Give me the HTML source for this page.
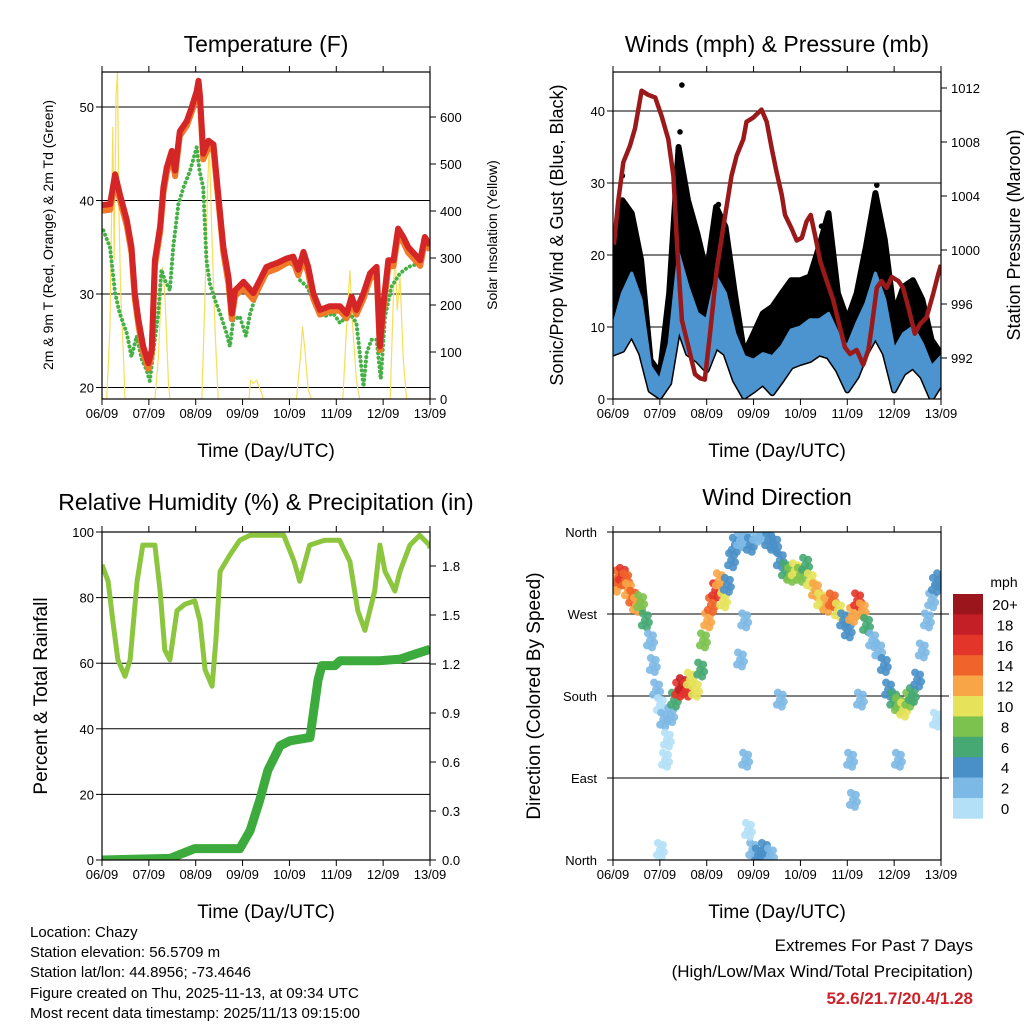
<!DOCTYPE html>
<html><head><meta charset="utf-8">
<style>
body{margin:0;background:#fff;width:1024px;height:1024px;overflow:hidden}
svg{display:block;font-family:"Liberation Sans",sans-serif}
</style></head>
<body>
<svg id="c" width="1024" height="1024" viewBox="0 0 1024 1024">
<text x="266" y="52" font-size="23" text-anchor="middle">Temperature (F)</text>
<text x="777" y="52" font-size="23" text-anchor="middle">Winds (mph) &amp; Pressure (mb)</text>
<text x="266" y="510" font-size="23" text-anchor="middle">Relative Humidity (%) &amp; Precipitation (in)</text>
<text x="777" y="505" font-size="23" text-anchor="middle">Wind Direction</text>
<g font-size="15">
<text x="30" y="937">Location: Chazy</text>
<text x="30" y="957">Station elevation: 56.5709 m</text>
<text x="30" y="977">Station lat/lon: 44.8956; -73.4646</text>
<text x="30" y="998">Figure created on Thu, 2025-11-13, at 09:34 UTC</text>
<text x="30" y="1018">Most recent data timestamp: 2025/11/13 09:15:00</text>
</g>
<text x="973" y="951" font-size="17" text-anchor="end">Extremes For Past 7 Days</text>
<text x="973" y="977" font-size="17" text-anchor="end">(High/Low/Max Wind/Total Precipitation)</text>
<text x="973" y="1004" font-size="17" font-weight="bold" fill="#cc2229" text-anchor="end">52.6/21.7/20.4/1.28</text>
</svg>
<script>
// ---- Temperature data ----
const redT=[0,0.17,0.28,0.38,0.53,0.63,0.70,0.78,0.88,0.99,1.06,1.13,1.24,1.31,1.38,1.49,1.56,1.66,1.81,1.91,2.02,2.06,2.09,2.13,2.16,2.27,2.38,2.48,2.59,2.70,2.77,2.84,3.02,3.23,3.37,3.51,3.73,3.94,4.08,4.19,4.30,4.40,4.51,4.65,4.86,5.08,5.22,5.33,5.43,5.58,5.72,5.86,5.93,6.00,6.11,6.22,6.32,6.43,6.54,6.79,6.89,7.0];
const redV=[39.5,39.6,42.8,40.7,37.9,35.0,30.1,27.2,24.4,22.6,24.0,33.6,37.2,41.4,43.5,45.3,43.2,47.4,48.5,49.9,51.7,52.8,51.3,47.8,45.0,46.4,46.0,40.7,35.0,31.8,27.9,30.4,31.3,30.1,31.5,32.9,33.3,33.8,34.0,32.6,34.5,32.9,30.1,28.3,28.7,28.7,27.9,29.7,28.3,30.1,32.2,32.9,24.4,28.7,33.6,33.6,37.0,36.1,35.0,33.6,36.1,35.2];
const orangeV=[38.9,39.0,42.0,40.1,37.3,34.4,29.5,26.6,23.7,22.0,23.5,33.0,36.6,40.8,42.9,44.8,42.6,46.9,48.0,49.4,51.2,52.2,50.8,47.1,44.4,45.7,45.3,40.1,34.4,31.1,27.3,29.8,30.6,29.4,30.9,32.3,32.7,33.3,33.5,32.0,33.8,32.2,29.5,27.8,28.2,28.2,27.4,29.1,27.8,29.5,31.6,32.2,24.0,28.1,32.9,33.0,36.3,35.5,34.4,33.0,35.5,34.7];
const tdT=[0.03,0.17,0.28,0.38,0.53,0.63,0.74,0.85,0.95,1.02,1.10,1.20,1.27,1.34,1.45,1.52,1.63,1.74,1.88,2.02,2.08,2.16,2.23,2.30,2.41,2.52,2.66,2.73,2.80,2.94,3.07,3.16,3.30,3.44,3.62,3.94,4.12,4.22,4.37,4.51,4.72,4.94,5.08,5.29,5.43,5.58,5.65,5.75,5.86,5.95,6.04,6.18,6.36,6.54,6.79,6.89,7.0];
const tdV=[36.8,35.0,30.1,27.9,25.8,23.3,25.5,23.0,21.9,20.7,24.0,27.9,32.6,31.5,30.4,35.0,39.6,41.4,43.2,45.7,43.2,41.4,33.6,31.1,29.4,27.9,25.8,24.4,27.2,27.6,25.5,27.9,30.1,32.2,33.3,33.6,32.9,31.5,30.8,29.4,27.6,27.9,26.9,27.9,26.9,20.1,23.7,25.1,25.1,20.9,27.6,30.8,32.2,32.9,33.3,35.4,34.7];
const solT=[0,0.10,0.17,0.23,0.26,0.30,0.33,0.36,0.40,0.46,0.49,1.13,1.20,1.29,1.34,1.42,1.45,2.13,2.20,2.25,2.29,2.34,2.41,2.48,3.14,3.17,3.23,3.30,3.41,3.44,4.15,4.24,4.28,4.33,4.40,4.47,5.14,5.22,5.29,5.35,5.43,5.50,6.15,6.22,6.25,6.30,6.36,6.43,6.50,7.0];
const solV=[0,0,154,579,296,650,696,402,225,83,0,0,83,281,225,33,0,0,225,438,544,367,154,0,0,40,33,40,12,0,0,97,154,104,19,0,0,154,274,154,40,0,0,225,317,189,260,83,0,0];
const dayLabels=["06/09","07/09","08/09","09/09","10/09","11/09","12/09","13/09"];
const tempTicks=[20,30,40,50];
const solTicks=[0,100,200,300,400,500,600];
// ---- Winds data ----
const windT=[0,0.2,0.4,0.6,0.8,1.0,1.2,1.4,1.6,1.8,2.0,2.2,2.4,2.6,2.8,3.0,3.2,3.4,3.6,3.8,4.0,4.2,4.4,4.6,4.8,5.0,5.2,5.4,5.6,5.8,6.0,6.2,6.4,6.6,6.8,7.0];
const blueHi=[10,14.7,17.5,13.8,4.5,2.6,7.7,20.2,15.6,11.9,11,17,14.7,9.1,5.9,5.4,6.3,5.9,7.3,9.6,10,11,11,11.9,9.1,7.3,10.5,13.3,17.5,13.8,6.8,9.1,10,7.7,4.5,5.9];
const blueLo=[6.3,6.8,9,6.3,1.2,0.3,2.2,10,6.3,5.4,4,7.3,6.3,2.6,0.3,1.2,2.2,0.8,2.6,4.5,5,5.4,6.3,5.9,4,1.2,3.1,6.3,8.7,6.3,1.2,3.6,4.5,3.1,0.1,2.2];
const gustHi=[21.2,27.6,25.8,19.3,5.4,3.6,14.7,35,27.6,23,17.5,26.7,23.9,14.7,6.3,9.1,11.9,12.8,14.7,16.5,16.5,17,21.2,25.8,14.7,11,14.7,21.2,28.6,22.1,11.9,15.6,16.5,13.8,8.2,6.3];
const gustOutT=[1.47,1.43,5.63,0.2,2.25,4.45];
const gustOutV=[43.6,37.1,29.7,31,27,24];
const presT=[0.02,0.11,0.22,0.36,0.47,0.61,0.75,0.90,1.04,1.18,1.29,1.37,1.47,1.59,1.75,1.86,1.96,2.07,2.21,2.35,2.53,2.64,2.78,2.85,2.99,3.17,3.28,3.39,3.49,3.60,3.67,3.81,3.92,4.03,4.13,4.22,4.31,4.42,4.56,4.70,4.84,4.95,5.06,5.20,5.34,5.45,5.52,5.63,5.73,5.84,5.95,6.09,6.19,6.30,6.44,6.55,6.69,6.83,6.94,7.0];
const presV=[1000.4,1003.6,1006.5,1007.7,1009.0,1011.8,1011.5,1011.3,1009.9,1008.2,1005.5,1000.2,994.8,993.1,990.8,990.5,990.4,993.8,998.5,1001.6,1005.5,1007.0,1008.2,1009.5,1009.8,1010.4,1009.5,1007.5,1005.8,1004.1,1002.6,1001.6,1000.7,1000.9,1002.1,1002.6,1001.1,999.2,997.7,996.3,994.3,992.8,992.3,992.6,991.5,992.6,994.3,997.2,997.7,997.2,998.0,997.7,997.2,995.8,993.8,994.5,995.0,996.7,998.2,998.9];
const windTicks=[0,10,20,30,40];
const presTicks=[992,996,1000,1004,1008,1012];
// ---- RH & rain data ----
const rhT=[0,0.13,0.23,0.34,0.49,0.60,0.75,0.87,1.13,1.24,1.34,1.45,1.60,1.77,1.98,2.09,2.20,2.35,2.43,2.52,2.73,2.94,3.16,3.88,4.10,4.22,4.43,4.75,5.07,5.29,5.46,5.61,5.82,5.93,6.04,6.25,6.36,6.57,6.78,6.99,7.0];
const rhV=[90,85,73,61,56,61,85,96,96,82,64,61,76,78,79,73,58,53,67,88,93,97.5,99,99,91,85,96,97.5,97.5,91,76,70,82,96,88,82,88,96,99,96,95];
const rainT=[0,1.45,1.98,2.94,3.16,3.37,3.54,3.80,4.01,4.44,4.61,4.69,4.97,5.08,5.93,6.36,6.57,7.0];
const rainV=[0,0.01,0.07,0.07,0.18,0.37,0.55,0.70,0.73,0.75,1.10,1.19,1.19,1.22,1.22,1.23,1.25,1.29];
const rhTicks=[0,20,40,60,80,100];
const rainTicks=[0.0,0.3,0.6,0.9,1.2,1.5,1.8];
// ---- Wind direction data ----
const wdT=[0.04,0.11,0.19,0.26,0.32,0.41,0.49,0.58,0.68,0.79,0.85,0.92,1.00,1.07,1.15,1.11,1.22,1.30,1.39,1.47,1.56,1.64,1.75,1.86,1.92,2.01,2.09,2.18,2.26,2.35,2.43,2.52,2.60,2.71,2.82,2.92,3.05,3.18,3.31,3.44,3.56,3.67,3.78,3.88,3.99,4.10,4.20,4.31,4.42,4.55,4.67,4.80,4.91,5.01,5.10,5.21,5.31,5.40,5.53,5.66,5.78,5.87,5.98,6.08,6.19,6.30,6.38,6.49,6.59,6.70,6.79,6.87,6.96,2.97,3.09,3.22,3.35,2.88,2.82,2.71,2.80,1.00,5.06,5.12,6.08,5.27,3.56,6.89];
const wdDir=[302,310,313,307,296,288,280,283,263,241,214,187,170,154,132,110,159,176,187,192,187,198,187,209,241,263,280,296,307,285,302,329,346,351,353,346,357,358,351,346,329,318,313,318,313,324,307,296,285,280,285,274,263,252,269,285,274,258,241,230,214,187,176,170,165,176,181,198,230,263,285,302,307,11,5,11,5,33,110,220,263,11,110,66,110,176,176,154];
const wdSpd=[12,14,16,14,12,14,12,8,6,3,2,2,1,2,1,1,3,6,16,18,16,10,10,6,8,12,14,16,12,10,4,4,4,3,3,4,3,3,4,4,4,6,8,10,8,6,10,12,10,12,14,10,4,4,12,16,12,6,3,3,4,4,6,8,10,8,6,4,3,2,3,4,4,2,4,4,3,1,3,2,2,1,2,3,2,2,2,1];
const dirLabels=["North","East","South","West","North"];
const dirTicks=[0,90,180,270,360];
const cbLabels=["20+","18","16","14","12","10","8","6","4","2","0"];
const cbColors=["#9b161c","#c41f26","#e3352a","#f06429","#f8a547","#e6e25a","#7cc24e","#46a872","#4a90c8","#7db9e6","#b4e0f7"];

const NS="http://www.w3.org/2000/svg";
const svg=document.getElementById('c');
function mk(tag,attrs,name,parent){
  const el=document.createElementNS(NS,tag);
  for(const k in attrs) el.setAttribute(k,attrs[k]);
  
  
  (parent||svg).appendChild(el);
  return el;
}
function txt(x,y,s,size,anchor,name,extra){
  const t=mk('text',Object.assign({x:x,y:y,'font-size':size,'text-anchor':anchor||'middle'},extra||{}),name);
  t.textContent=s;return t;
}
function lin(d0,d1,p0,p1){return v=>p0+(v-d0)/(d1-d0)*(p1-p0);}
function path(xs,ys,sx,sy){return xs.map((v,i)=>(i?'L':'M')+sx(v).toFixed(1)+' '+sy(ys[i]).toFixed(1)).join(' ');}

function frame(x0,y0,x1,y1,name,sx){
  mk('rect',{x:x0,y:y0,width:x1-x0,height:y1-y0,fill:'none',stroke:'#000','stroke-width':1.2},name+'-frame');
  dayLabels.forEach((l,i)=>{
    const x=sx(i);
    mk('line',{x1:x,x2:x,y1:y1,y2:y1+6,stroke:'#000'},name+'-x-tick');
    mk('line',{x1:x,x2:x,y1:y0,y2:y0-6,stroke:'#000'},name+'-x-tick-top');
    txt(x,y1+19,l,13,'middle',name+'-x-tick-label');
  });
  txt((x0+x1)/2,y1+58,'Time (Day/UTC)',19,'middle',name+'-x-axis-title');
}
function clip(id,x0,y0,x1,y1){
  const cp=mk('clipPath',{id:id},'clip');
  mk('rect',{x:x0,y:y0,width:x1-x0,height:y1-y0},'clip-rect',cp);
}

// ===== Temperature panel =====
{
  const x0=102,x1=430,y0=72,y1=399;
  const sx=lin(0,7,x0,x1), sy=lin(20,30,387.5,294), sr=lin(0,100,399,352);
  clip('cT',x0,y0,x1,y1);
  tempTicks.forEach(v=>{
    mk('line',{x1:x0,x2:x1,y1:sy(v),y2:sy(v),stroke:'#000','stroke-width':1},'temp-gridline');
    mk('line',{x1:x0-6,x2:x0,y1:sy(v),y2:sy(v),stroke:'#000'},'temp-y-tick');
    txt(x0-8,sy(v)+5,String(v),13,'end','temp-y-tick-label');
  });
  solTicks.forEach(v=>{
    mk('line',{x1:x1,x2:x1+6,y1:sr(v),y2:sr(v),stroke:'#000'},'solar-y-tick');
    txt(x1+10,sr(v)+5,String(v),13,'start','solar-y-tick-label');
  });
  const g=mk('g',{'clip-path':'url(#cT)'},'temp-plot-area');
  mk('path',{d:path(solT,solV,sx,sr),fill:'none',stroke:'#f7de5a','stroke-width':1.2},'solar-insolation-line',g);
  mk('path',{d:path(tdT,tdV,sx,sy),fill:'none',stroke:'#45b045','stroke-width':4,'stroke-dasharray':'0.1 4.5','stroke-linecap':'round'},'dewpoint-2m-line',g);
  mk('path',{d:path(redT,orangeV,sx,sy),fill:'none',stroke:'#f07a28','stroke-width':6,'stroke-linejoin':'round'},'temp-9m-line',g);
  mk('path',{d:path(redT,redV,sx,sy),fill:'none',stroke:'#d42626','stroke-width':6,'stroke-linejoin':'round'},'temp-2m-line',g);
  frame(x0,y0,x1,y1,'temp',sx);
  txt(0,0,'2m & 9m T (Red, Orange) & 2m Td (Green)',14,'middle','temp-y-axis-title',{transform:'translate(53,235) rotate(-90)'});
  txt(0,0,'Solar Insolation (Yellow)',14,'middle','solar-y-axis-title',{transform:'translate(497,235) rotate(-90)'});
}
// ===== Winds panel =====
{
  const x0=613,x1=941,y0=72,y1=399;
  const sx=lin(0,7,x0,x1), sy=lin(0,10,399,327), sp=lin(992,996,358,304);
  clip('cW',x0,y0,x1,y1);
  windTicks.forEach(v=>{
    if(v>0) mk('line',{x1:x0,x2:x1,y1:sy(v),y2:sy(v),stroke:'#000'},'wind-gridline');
    mk('line',{x1:x0-6,x2:x0,y1:sy(v),y2:sy(v),stroke:'#000'},'wind-y-tick');
    txt(x0-8,sy(v)+5,String(v),13,'end','wind-y-tick-label');
  });
  presTicks.forEach(v=>{
    mk('line',{x1:x1,x2:x1+6,y1:sp(v),y2:sp(v),stroke:'#000'},'pressure-y-tick');
    txt(x1+10,sp(v)+5,String(v),13,'start','pressure-y-tick-label');
  });
  const g=mk('g',{'clip-path':'url(#cW)'},'wind-plot-area');
  const rev=a=>a.slice().reverse();
  const gd=path(windT.concat(rev(windT)),gustHi.concat(rev(blueLo)),sx,sy)+'Z';
  mk('path',{d:gd,fill:'#000',stroke:'#000','stroke-width':6,'stroke-linejoin':'round'},'gust-points-band',g);
  gustOutT.forEach((t,i)=>{
    mk('circle',{cx:sx(t),cy:sy(gustOutV[i]),r:2.8,fill:'#000'},'gust-point',g);
  });
  const bd=path(windT.concat(rev(windT)),blueHi.concat(rev(blueLo)),sx,sy)+'Z';
  mk('path',{d:bd,fill:'#4b94d0',stroke:'#4b94d0','stroke-width':3,'stroke-linejoin':'round'},'sonic-wind-band',g);
  mk('path',{d:path(presT,presV,sx,sp),fill:'none',stroke:'#9a1a1c','stroke-width':4.5,'stroke-linejoin':'round'},'pressure-line',g);
  frame(x0,y0,x1,y1,'wind',sx);
  txt(0,0,'Sonic/Prop Wind & Gust (Blue, Black)',18,'middle','wind-y-axis-title',{transform:'translate(563,235) rotate(-90)'});
  txt(0,0,'Station Pressure (Maroon)',18,'middle','pressure-y-axis-title',{transform:'translate(1020,235) rotate(-90)'});
}
// ===== RH panel =====
{
  const x0=102,x1=430,y0=532,y1=860;
  const sx=lin(0,7,x0,x1), sy=lin(0,100,860,532), sr=lin(0,0.3,860,811);
  clip('cR',x0,y0,x1,y1);
  rhTicks.forEach(v=>{
    if(v>0&&v<100) mk('line',{x1:x0,x2:x1,y1:sy(v),y2:sy(v),stroke:'#000'},'rh-gridline');
    mk('line',{x1:x0-6,x2:x0,y1:sy(v),y2:sy(v),stroke:'#000'},'rh-y-tick');
    txt(x0-8,sy(v)+5,String(v),13,'end','rh-y-tick-label');
  });
  rainTicks.forEach(v=>{
    mk('line',{x1:x1,x2:x1+6,y1:sr(v),y2:sr(v),stroke:'#000'},'rain-y-tick');
    txt(x1+12,sr(v)+5,v.toFixed(1),13,'start','rain-y-tick-label');
  });
  const g=mk('g',{'clip-path':'url(#cR)'},'rh-plot-area');
  mk('path',{d:path(rhT,rhV,sx,sy),fill:'none',stroke:'#8cc63f','stroke-width':5,'stroke-linejoin':'round'},'relative-humidity-line',g);
  mk('path',{d:path(rainT,rainV,sx,sr),fill:'none',stroke:'#3daa3d','stroke-width':9,'stroke-linejoin':'round'},'total-rainfall-line',g);
  frame(x0,y0,x1,y1,'rh',sx);
  txt(0,0,'Percent & Total Rainfall',19,'middle','rh-y-axis-title',{transform:'translate(47,696) rotate(-90)'});
}
// ===== Wind direction panel =====
{
  const x0=613,x1=941,y0=532,y1=860;
  const sx=lin(0,7,x0,x1), sy=lin(0,360,860,532);
  clip('cD',x0,y0,x1,y1);
  dirTicks.forEach((v,i)=>{
    if(v>0&&v<360) mk('line',{x1:x0,x2:x1+8,y1:sy(v),y2:sy(v),stroke:'#000'},'direction-gridline');
    mk('line',{x1:x0-6,x2:x0,y1:sy(v),y2:sy(v),stroke:'#000'},'direction-y-tick');
    txt(x0-16,sy(v)+5,dirLabels[i],13,'end','direction-y-tick-label');
  });
  const g=mk('g',{'clip-path':'url(#cD)','fill-opacity':0.9},'direction-plot-area');
  const offs=[[0,0],[-3,5],[3,-5],[-2,-7],[2,7],[4,2]];
  wdT.forEach((t,i)=>{
    const s=wdSpd[i], ci=Math.max(0,Math.min(10,10-Math.floor(s/2)));
    offs.forEach(o=>{
      mk('circle',{cx:sx(t)+o[0],cy:sy(wdDir[i])+o[1],r:4,fill:cbColors[ci]},'direction-point',g);
    });
  });
  frame(x0,y0,x1,y1,'direction',sx);
  txt(0,0,'Direction (Colored By Speed)',19,'middle','direction-y-axis-title',{transform:'translate(540,696) rotate(-90)'});
  const cy0=594,bh=20.4;
  txt(1004,587,'mph',14,'middle','colorbar-unit-label');
  cbColors.forEach((c,i)=>{
    mk('rect',{x:953,y:cy0+i*bh,width:30,height:bh+0.3,fill:c},'colorbar-swatch');
    txt(1005,cy0+i*bh+16,cbLabels[i],15,'middle','colorbar-label');
  });
}
</script>
</body></html>
